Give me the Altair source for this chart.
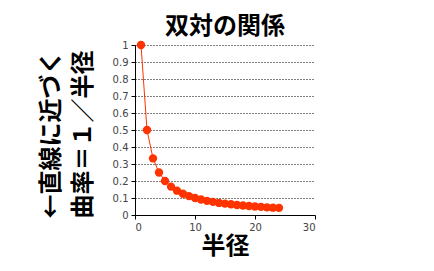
import altair as alt
import pandas as pd

radius = [1, 2, 3, 4, 5, 6, 7, 8, 9, 10, 11, 12, 13, 14, 15, 16, 17, 18, 19, 20, 21, 22, 23, 24]
curvature = [1.0, 0.5, 0.333, 0.25, 0.2, 0.167, 0.143, 0.125, 0.111, 0.1, 0.091, 0.083,
             0.077, 0.071, 0.067, 0.063, 0.059, 0.056, 0.053, 0.05, 0.048, 0.045, 0.043, 0.042]

df = pd.DataFrame({"r": radius, "k": curvature})
JP = "Noto Sans CJK JP"
color = "#ff3300"

x = alt.X("r:Q", scale=alt.Scale(domain=[0, 30], nice=False),
          axis=alt.Axis(values=[0, 10, 20, 30], title="半径", grid=False,
                        titleFont=JP, titleFontSize=24, titleFontWeight="bold",
                        titleColor="black", titlePadding=2))
y = alt.Y("k:Q", scale=alt.Scale(domain=[0, 1], nice=False),
          axis=alt.Axis(values=[0, 0.1, 0.2, 0.3, 0.4, 0.5, 0.6, 0.7, 0.8, 0.9, 1],
                        format="~g",
                        title=["←直線に近づく", "曲率＝１／半径"],
                        titleFont=JP, titleFontSize=24, titleFontWeight="bold",
                        titleColor="black", titleAngle=-90, titleLineHeight=32,
                        titleX=-84, titleY=89, titleAlign="center", titleBaseline="middle",
                        grid=True, gridColor="black", gridDash=[1, 2], gridOpacity=1,
                        gridWidth=1))

base = alt.Chart(df)
line = base.mark_line(color=color, strokeWidth=1).encode(x=x, y=y)
pts = base.mark_circle(color=color, size=70, opacity=1).encode(x=x, y=y)

chart = (line + pts).properties(
    width=180, height=170,
    title=alt.TitleParams("双対の関係", font=JP, fontSize=24, fontWeight="bold",
                          color="black", anchor="middle", offset=1),
    autosize=alt.AutoSizeParams(type="none"),
    padding={"left": 135, "top": 45, "right": 119, "bottom": 56},
).configure_view(stroke=None).configure_axis(
    domainColor="black", tickColor="black", tickSize=4, labelFont="DejaVu Sans",
    labelFontSize=10, labelColor="#444444", labelPadding=3, domainWidth=1
)

chart.save("out.html", embed_options={"renderer": "svg", "actions": False})
